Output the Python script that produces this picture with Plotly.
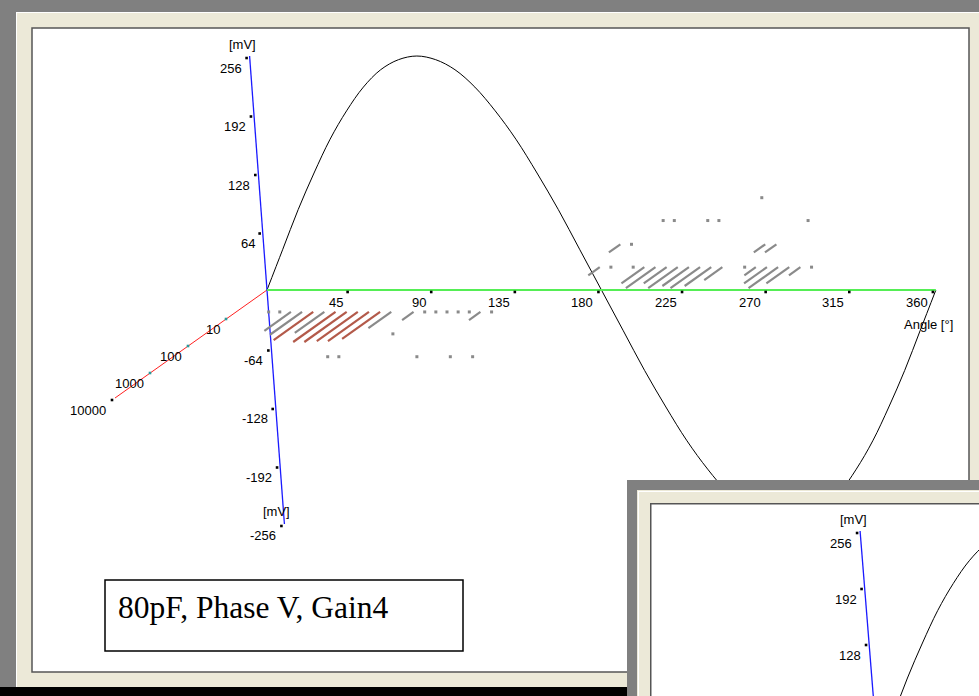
import math
import plotly.graph_objects as go

# ---------------------------------------------------------------------------
# Data
# ---------------------------------------------------------------------------
# Phase-resolved partial-discharge bins: phase [deg], amplitude [mV], pulse count
pulse_phase = [0, 6, 12, 18, 24, 30, 36, 42, 48, 54, 60, 66, 78, 84, 90, 96, 102, 108, 114, 120,
               66,
               30, 36, 78, 96, 108,
               180, 186, 198, 204, 210, 216, 222, 228, 234, 240, 246, 258, 264, 270, 276, 282, 288, 294,
               192, 198, 270, 276,
               216, 222, 240, 246, 294,
               270]
pulse_amp = [-24] * 20 + [-48] + [-73] * 5 + [25] * 18 + [50] * 4 + [76] * 5 + [101]
pulse_count = [1, 1, 5, 7, 11, 6, 13, 13, 12, 12, 10, 4, 2, 1, 1, 1, 1, 1, 2, 1,
               1,
               1, 1, 1, 1, 1,
               2, 1, 1, 4, 6, 4, 6, 5, 6, 5, 3, 1, 2, 4, 6, 4, 2, 1,
               2, 1, 2, 2,
               1, 1, 1, 1, 1,
               1]

# Reference voltage, sampled every 10 degrees [mV]
sine_phase = list(range(0, 361, 10))
sine_mv = [0, 44, 88, 128, 165, 196, 222, 241, 252, 256, 252, 241, 222, 196, 165, 128, 88, 44,
           0, -44, -88, -128, -165, -196, -222, -241, -252, -256, -252, -241, -222, -196, -165,
           -128, -88, -44, 0]

# Axis ticks
phase_ticks = [45, 90, 135, 180, 225, 270, 315, 360]
mv_ticks = [256, 192, 128, 64, -64, -128, -192, -256]
count_ticks = [10, 100, 1000, 10000]
inset_mv_ticks = [256, 192, 128]

caption = "80pF, Phase V, Gain4"
RED_LIMIT = 10  # bins with at least this many pulses are drawn in red

# ---------------------------------------------------------------------------
# Oblique projection of (phase, amplitude, log10 count) onto the screen
# ---------------------------------------------------------------------------
W, H = 979, 696


def make_projection(ox, oy, deg_px, mv_dx, mv_dy, dec_dx, dec_dy):
    def proj(phase, mv, decades=0.0):
        return (ox + deg_px * phase + mv_dx * mv + dec_dx * decades,
                oy + mv_dy * mv + dec_dy * decades)
    return proj


main = make_projection(267.0, 290.0, 1.858, -0.068, -0.914, -38.0, 27.0)
inset = make_projection(878.0, 755.0, 1.78, -0.070, -0.875, -36.5, 26.0)
TICK_OFF = (-3.0, 2.0)  # tick dots sit a little toward the count axis

BEIGE = "#ECE9D8"
GRAY = "#808080"
FONT = dict(family="Liberation Sans, Arial, sans-serif", size=13, color="black")

fig = go.Figure()
shapes = []
annotations = []


def rect(x0, y0, x1, y1, fill, line=None, width=0, layer="below"):
    shapes.append(dict(type="rect", xref="x", yref="y", x0=x0, y0=y0, x1=x1, y1=y1,
                       fillcolor=fill, line=dict(color=line or fill, width=width), layer=layer))


def label(x, y, text, anchor="right", font=FONT):
    annotations.append(dict(x=x, y=y, xref="x", yref="y", text=text, showarrow=False,
                            xanchor=anchor, yanchor="middle", font=font))


def seg_trace(pts, color, width):
    xs, ys = [], []
    for a, b in pts:
        xs += [a[0], b[0], None]
        ys += [a[1], b[1], None]
    fig.add_trace(go.Scatter(x=xs, y=ys, mode="lines", line=dict(color=color, width=width),
                             hoverinfo="skip", showlegend=False))


def dot_trace(pts, color, size=2.6):
    fig.add_trace(go.Scatter(x=[p[0] for p in pts], y=[p[1] for p in pts], mode="markers",
                             marker=dict(color=color, size=size, symbol="square",
                                         line=dict(width=0)),
                             hoverinfo="skip", showlegend=False))


def poly(xs, ys, color):
    fig.add_trace(go.Scatter(x=xs + [xs[0]], y=ys + [ys[0]], mode="lines", fill="toself",
                             fillcolor=color, line=dict(width=0, color=color),
                             hoverinfo="skip", showlegend=False))


# ---------------------------------------------------------------------------
# Main window frame
# ---------------------------------------------------------------------------
rect(0, 0, W, 12, GRAY)
rect(0, 0, 16, H, GRAY)
rect(16, 12, W, 687, BEIGE)
rect(16, 12, W, 13, "#ffffff")
rect(16, 12, 17, 687, "#ffffff")
rect(0, 687, W, H, "#000000")
rect(32, 28, 969, 672, "#ffffff", line="#555555", width=1.5)

# caption box
rect(105, 580, 463, 651, "#ffffff", line="black", width=1.5)
label(116, 607, caption, anchor="left",
      font=dict(family="Liberation Serif, Times New Roman, serif", size=31.5, color="black"))

# ---------------------------------------------------------------------------
# Main plot
# ---------------------------------------------------------------------------
# reference sine
sx, sy = zip(*[main(p, v) for p, v in zip(sine_phase, sine_mv)])
fig.add_trace(go.Scatter(x=list(sx), y=list(sy), mode="lines", line=dict(color="black", width=1),
                         line_shape="spline", hoverinfo="skip", showlegend=False))

# axes
seg_trace([(main(0, 0, 0), main(0, 0, math.log10(count_ticks[-1])))], "#ff2020", 1)
seg_trace([(main(0, mv_ticks[0]), main(0, mv_ticks[-1]))], "#1a1aff", 1.3)
seg_trace([(main(0, 0), main(phase_ticks[-1], 0))], "#55ee55", 2.2)

# pulse bins
gray_seg, red_seg, single = [], [], []
for ph, mv, n in zip(pulse_phase, pulse_amp, pulse_count):
    if n <= 1:
        single.append(main(ph, mv))
        continue
    seg = (main(ph, mv, 0.0), main(ph, mv, math.log10(n)))
    (red_seg if n >= RED_LIMIT else gray_seg).append(seg)
seg_trace(gray_seg, "#8a8a8a", 2.2)
seg_trace(red_seg, "#b35a4a", 2.2)
dot_trace(single, "#8a8a8a", 3)

# tick dots + labels
tick_pts = []
for t in phase_ticks:
    x, y = main(t, 0)
    x, y = x + TICK_OFF[0], y + TICK_OFF[1]
    tick_pts.append((x, y))
    label(x - 3, y + 10, str(t))
for t in mv_ticks:
    x, y = main(0, t)
    x, y = x + TICK_OFF[0], y + TICK_OFF[1]
    tick_pts.append((x, y))
    label(x - 3, y + 10, str(t))
teal = []
for t in count_ticks:
    x, y = main(0, 0, math.log10(t))
    x, y = x + TICK_OFF[0], y + TICK_OFF[1]
    (tick_pts if t == count_ticks[-1] else teal).append((x, y))
    label(x - 4, y + 10, str(t))
dot_trace(tick_pts, "black")
dot_trace(teal, "#2a9a9a")

x, y = main(0, mv_ticks[0])
label(x - 7, y - 12, "[mV]", anchor="center")
x, y = main(0, mv_ticks[-1])
label(x - 8, y - 12, "[mV]", anchor="center")
x, y = main(phase_ticks[-1], 0)
label(x - 7, y + 34, "Angle [°]", anchor="center")

# ---------------------------------------------------------------------------
# Second window overlapping the lower right corner
# ---------------------------------------------------------------------------
poly([627, W, W, 627], [480, 480, H, H], GRAY)
poly([637, W, W, 637], [490, 490, H, H], BEIGE)
poly([638, W, W, 638], [491, 491, 492, 492], "#ffffff")
poly([638, 639, 639, 638], [491, 491, H, H], "#ffffff")
poly([650, W, W, 650], [503, 503, H, H], "#555555")
poly([651.5, W, W, 651.5], [504.5, 504.5, H, H], "#ffffff")

ix, iy = zip(*[inset(p, v) for p, v in zip(sine_phase[:12], sine_mv[:12])])
fig.add_trace(go.Scatter(x=list(ix), y=list(iy), mode="lines", line=dict(color="black", width=1),
                         line_shape="spline", hoverinfo="skip", showlegend=False))
seg_trace([(inset(0, inset_mv_ticks[0]), inset(0, 0))], "#1a1aff", 1.3)
ipts = []
for t in inset_mv_ticks:
    x, y = inset(0, t)
    x, y = x + TICK_OFF[0], y + TICK_OFF[1]
    ipts.append((x, y))
    label(x - 3, y + 10, str(t))
dot_trace(ipts, "black")
x, y = inset(0, inset_mv_ticks[0])
label(x - 7, y - 12, "[mV]", anchor="center")

fig.update_layout(
    width=W, height=H, margin=dict(l=0, r=0, t=0, b=0),
    paper_bgcolor=BEIGE, plot_bgcolor="rgba(0,0,0,0)",
    xaxis=dict(range=[0, W], visible=False, fixedrange=True),
    yaxis=dict(range=[H, 0], visible=False, fixedrange=True),
    shapes=shapes, annotations=annotations, showlegend=False,
)
fig.write_html("out.html")
